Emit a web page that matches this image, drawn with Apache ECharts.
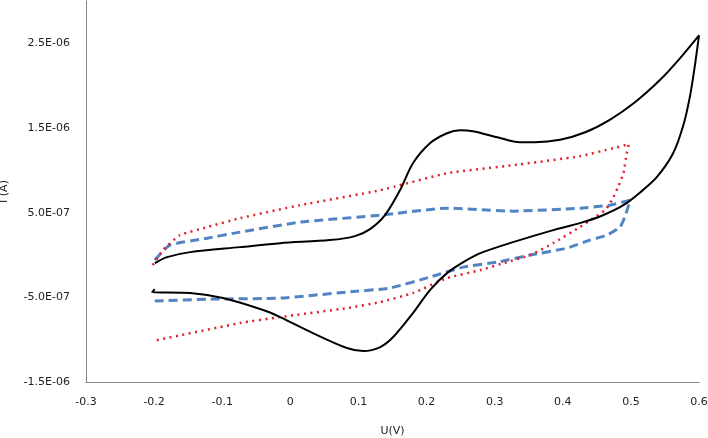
<!DOCTYPE html>
<html>
<head>
<meta charset="utf-8">
<script src="https://cdn.jsdelivr.net/npm/echarts@6/dist/echarts.min.js"></script>
<style>
  html, body { margin: 0; padding: 0; background: #fff; }
  #chart { width: 708px; height: 438px; }
</style>
</head>
<body>
<div id="chart"></div>
<script>
// potential (V) and current (A), one pair of arrays per curve
const blackU = [-0.199, -0.181, -0.147, -0.074, -0.015, 0.058, 0.095, 0.117, 0.139, 0.161, 0.180, 0.205, 0.230, 0.249, 0.268, 0.304, 0.337, 0.359, 0.396, 0.433, 0.469, 0.506, 0.543, 0.572, 0.600,
  0.594, 0.587, 0.577, 0.562, 0.538, 0.514, 0.489, 0.459, 0.425, 0.386, 0.327, 0.279, 0.254, 0.230, 0.205, 0.180, 0.151, 0.132, 0.107, 0.083, 0.033, -0.015, -0.040, -0.099, -0.147, -0.203, -0.199];
const blackI = [-0.96e-7, -0.25e-7, 0.34e-7, 0.93e-7, 1.40e-7, 1.76e-7, 2.23e-7, 3.05e-7, 4.70e-7, 7.65e-7, 10.84e-7, 13.20e-7, 14.38e-7, 14.73e-7, 14.62e-7, 13.91e-7, 13.32e-7, 13.32e-7, 13.61e-7, 14.50e-7, 15.97e-7, 18.04e-7, 20.69e-7, 23.23e-7, 25.94e-7,
  22.40e-7, 18.86e-7, 15.32e-7, 12.02e-7, 9.19e-7, 7.42e-7, 5.88e-7, 4.70e-7, 3.76e-7, 2.94e-7, 1.52e-7, 0.22e-7, -0.84e-7, -2.14e-7, -4.14e-7, -6.86e-7, -9.69e-7, -10.87e-7, -11.34e-7, -10.99e-7, -9.22e-7, -7.33e-7, -6.50e-7, -5.09e-7, -4.50e-7, -4.38e-7, -4.03e-7];

const redU = [-0.202, -0.187, -0.162, -0.122, -0.074, 0.014, 0.132, 0.230, 0.327, 0.425, 0.474, 0.497,
  0.494, 0.489, 0.481, 0.472, 0.462, 0.445, 0.425, 0.386, 0.352, 0.318, 0.279, 0.230, 0.180, 0.132, 0.083, -0.015, -0.074, -0.202];
const redI = [-1.19e-7, 0.58e-7, 2.35e-7, 3.29e-7, 4.35e-7, 5.88e-7, 7.65e-7, 9.66e-7, 10.60e-7, 11.67e-7, 12.61e-7, 13.08e-7,
  12.02e-7, 9.66e-7, 8.01e-7, 6.47e-7, 5.29e-7, 4.35e-7, 3.29e-7, 1.40e-7, -0.01e-7, -0.84e-7, -1.78e-7, -2.73e-7, -4.50e-7, -5.56e-7, -6.27e-7, -7.33e-7, -8.04e-7, -10.16e-7];

const blueU = [-0.199, -0.177, -0.122, -0.074, 0.014, 0.132, 0.230, 0.327, 0.425, 0.469, 0.499,
  0.491, 0.484, 0.465, 0.440, 0.406, 0.352, 0.304, 0.254, 0.205, 0.146, 0.083, -0.015, -0.114, -0.199];
const blueI = [-0.60e-7, 1.17e-7, 1.99e-7, 2.70e-7, 3.88e-7, 4.70e-7, 5.53e-7, 5.18e-7, 5.53e-7, 5.88e-7, 6.47e-7,
  4.47e-7, 3.29e-7, 2.35e-7, 1.76e-7, 0.81e-7, -0.01e-7, -0.84e-7, -1.43e-7, -2.61e-7, -3.91e-7, -4.38e-7, -5.09e-7, -5.21e-7, -5.44e-7];

const xTicks = { min: -0.3, max: 0.6, step: 0.1 };
const yTicks = { min: -1.5e-6, max: 3e-6, step: 1e-6 };

function pairs(us, is) {
  return us.map((u, k) => [u, is[k]]);
}

// 2.5E-06 style labels
function sci(v) {
  const parts = v.toExponential(1).split('e');
  let exp = parseInt(parts[1], 10);
  const neg = exp < 0;
  exp = Math.abs(exp);
  return parts[0] + 'E' + (neg ? '-' : '+') + (exp < 10 ? '0' + exp : exp);
}

const font = 'DejaVu Sans';
const chart = echarts.init(document.getElementById('chart'));
chart.setOption({
  animation: false,
  backgroundColor: '#fff',
  grid: { left: 86, right: 9, top: 1, bottom: 56, outerBoundsMode: 'none' },
  xAxis: {
    type: 'value',
    min: xTicks.min,
    max: xTicks.max,
    interval: xTicks.step,
    name: 'U(V)',
    nameLocation: 'middle',
    nameGap: 44,
    nameTextStyle: { fontFamily: font, fontSize: 11, color: '#222' },
    axisLine: { show: true, onZero: false, lineStyle: { color: '#868686', width: 1 } },
    axisTick: { show: false },
    splitLine: { show: false },
    axisLabel: {
      margin: 15,
      fontFamily: font,
      fontSize: 11,
      color: '#222',
      formatter: v => String(Math.round(v * 10) / 10)
    }
  },
  yAxis: {
    type: 'value',
    min: yTicks.min,
    max: yTicks.max,
    interval: yTicks.step,
    name: 'I (A)',
    nameLocation: 'middle',
    nameGap: 76,
    nameTextStyle: { fontFamily: font, fontSize: 11, color: '#222' },
    axisLine: { show: true, onZero: false, lineStyle: { color: '#868686', width: 1 } },
    axisTick: { show: false },
    splitLine: { show: false },
    axisLabel: {
      margin: 16,
      fontFamily: font,
      fontSize: 11,
      color: '#222',
      showMaxLabel: false,
      formatter: sci
    }
  },
  series: [
    {
      type: 'line',
      data: pairs(blueU, blueI),
      symbol: 'none',
      smooth: 0.15,
      lineStyle: { color: '#5284c4', width: 3, type: [9, 5] }
    },
    {
      type: 'line',
      data: pairs(redU, redI),
      symbol: 'none',
      smooth: 0.15,
      lineStyle: { color: '#e0202c', width: 2.5, type: [2, 4.5] }
    },
    {
      type: 'line',
      data: pairs(blackU, blackI),
      symbol: 'none',
      smooth: 0.3,
      lineStyle: { color: '#000', width: 2 }
    }
  ]
});
</script>
</body>
</html>
